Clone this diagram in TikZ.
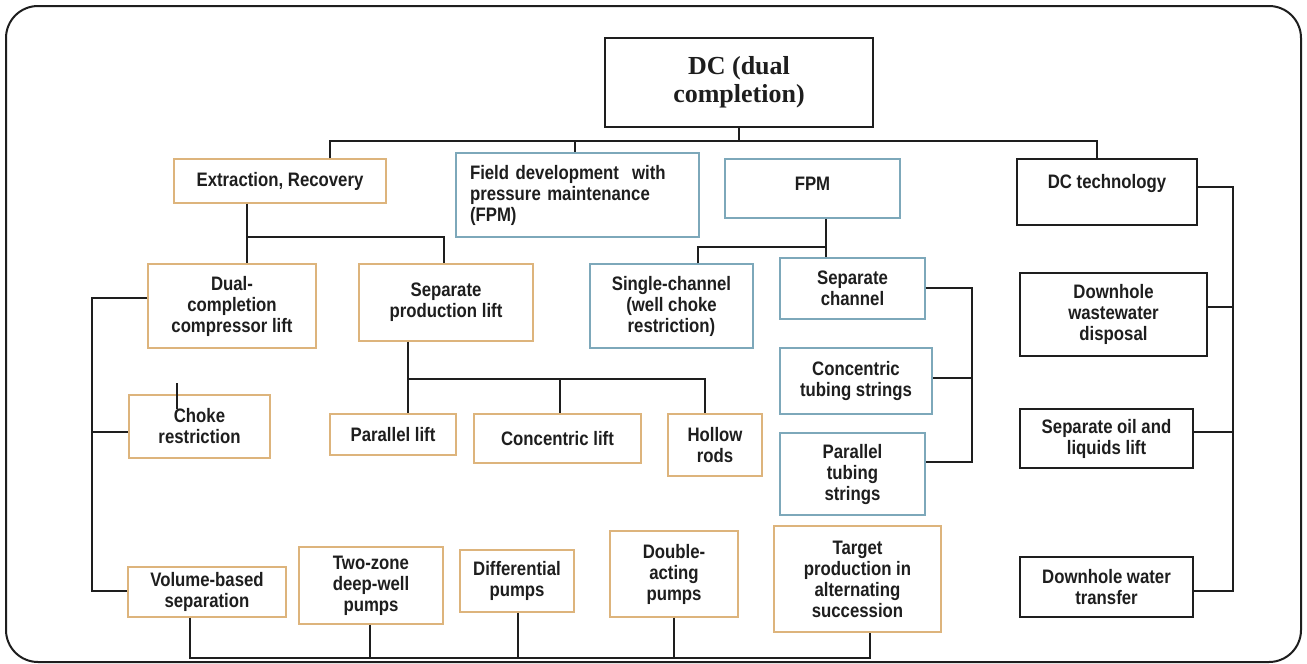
\documentclass[tikz,border=0pt]{standalone}
\usepackage{fontspec}
\usepackage{xcolor}
\usepackage{tikz}
\newfontfamily\boxfont{Liberation Sans}[FakeStretch=0.86]
\newfontfamily\rootfont{Liberation Serif}
\definecolor{ink}{HTML}{1E1E1E}
\definecolor{ochre}{HTML}{DDB47C}
\definecolor{steel}{HTML}{7DA8BA}
\tikzset{
  abox/.style={draw, line width=1.3pt, fill=white, text=ink, align=center, inner sep=0pt,
    font=\boxfont\bfseries\fontsize{19.5}{21}\selectfont},
  obox/.style={abox, draw=ochre},
  bbox/.style={abox, draw=steel},
  kbox/.style={abox, draw=ink},
  conn/.style={draw=ink, line width=1.2pt},
  outline/.style={draw=ink, line width=2pt, rounded corners=32pt}
}

\begin{document}
\begin{tikzpicture}[x=1pt,y=-1pt]
  \useasboundingbox (0,0) rectangle (1307,664);
  \fill[white] (0,0) rectangle (1307,664);
  \draw[outline] (6,6) rectangle (1301,662);

  \node[kbox, font=\rootfont\bfseries\fontsize{26}{28}\selectfont, minimum width=268pt, minimum height=89pt] (root) at (739,82.5) {DC (dual\\completion)};

  \node[obox, minimum width=212pt, minimum height=44pt] (extr) at (280,181) {Extraction, Recovery};
  \node[bbox, minimum width=243pt, minimum height=84pt, text width=215pt, align=left] (fdev) at (577.5,195) {Field development\ \ with\\pressure maintenance\\(FPM)};
  \node[bbox, minimum width=175pt, minimum height=59pt, text height=14pt, text depth=11pt] (fpm) at (812.5,188.5) {FPM};
  \node[kbox, minimum width=180pt, minimum height=66pt, text height=14pt, text depth=22pt] (dct) at (1107,192) {DC technology};

  \node[obox, minimum width=168pt, minimum height=84pt] (dual) at (232,306) {Dual-\\completion\\compressor lift};
  \node[obox, minimum width=174pt, minimum height=77pt] (sepl) at (446,302.5) {Separate\\production lift};
  \node[bbox, minimum width=163pt, minimum height=84pt] (sngl) at (671.5,306) {Single-channel\\(well choke\\restriction)};
  \node[bbox, minimum width=145pt, minimum height=61pt] (sepc) at (852.5,288.5) {Separate\\channel};
  \node[bbox, minimum width=152pt, minimum height=66pt] (ctub) at (856,381) {Concentric\\tubing strings};
  \node[bbox, minimum width=145pt, minimum height=82pt] (ptub) at (852.5,474) {Parallel\\tubing\\strings};

  \node[obox, minimum width=141pt, minimum height=63pt] (choke) at (199.5,426.5) {Choke\\restriction};
  \node[obox, minimum width=126pt, minimum height=41pt] (plift) at (393,434.5) {Parallel lift};
  \node[obox, minimum width=167pt, minimum height=49pt] (clift) at (557.5,438.5) {Concentric lift};
  \node[obox, minimum width=94pt, minimum height=62pt] (hrods) at (715,445) {Hollow\\rods};

  \node[kbox, minimum width=187pt, minimum height=83pt] (dww) at (1113.5,314.5) {Downhole\\wastewater\\disposal};
  \node[kbox, minimum width=173pt, minimum height=59pt] (soil) at (1106.5,438.5) {Separate oil and\\liquids lift};
  \node[kbox, minimum width=173pt, minimum height=60pt] (dwt) at (1106.5,587) {Downhole water\\transfer};

  \node[obox, minimum width=158pt, minimum height=50pt] (vol) at (207,592) {Volume-based\\separation};
  \node[obox, minimum width=144pt, minimum height=77pt] (twoz) at (371,585.5) {Two-zone\\deep-well\\pumps};
  \node[obox, minimum width=114pt, minimum height=62pt] (diff) at (517,581) {Differential\\pumps};
  \node[obox, minimum width=128pt, minimum height=86pt] (dbl) at (674,574) {Double-\\acting\\pumps};
  \node[obox, minimum width=167pt, minimum height=106pt] (targ) at (857.5,579) {Target\\production in\\alternating\\succession};

  \coordinate (j1) at (330,141); \coordinate (j2) at (575,141); \coordinate (j3) at (1097,141);
  \draw[conn] (root.south) -- (root.south |- j1);
  \draw[conn] (j1 |- extr.north) -- (j1) -- (j3) -- (j3 |- dct.north);
  \draw[conn] (j2) -- (j2 |- fdev.north);

  \coordinate (k1) at (247,237); \coordinate (k2) at (444,237);
  \draw[conn] (k1 |- extr.south) -- (k1 |- dual.north);
  \draw[conn] (k1) -- (k2) -- (k2 |- sepl.north);

  \coordinate (l1) at (92,298); \coordinate (l2) at (92,432); \coordinate (l3) at (92,591);
  \draw[conn] (l1 -| dual.west) -- (l1) -- (l3) -- (l3 -| vol.west);
  \draw[conn] (l2) -- (l2 -| choke.west);
  \coordinate (ck) at (177,383);
  \draw[conn] (ck) -- ++(0,26);

  \coordinate (m1) at (408,379); \coordinate (m2) at (560,379); \coordinate (m3) at (705,379);
  \draw[conn] (m1 |- sepl.south) -- (m1 |- plift.north);
  \draw[conn] (m1) -- (m3) -- (m3 |- hrods.north);
  \draw[conn] (m2) -- (m2 |- clift.north);

  \coordinate (n1) at (698,247); \coordinate (n2) at (826,247);
  \draw[conn] (n1 |- sngl.north) -- (n1) -- (n2);
  \draw[conn] (n2 |- fpm.south) -- (n2 |- sepc.north);

  \coordinate (p1) at (972,288); \coordinate (p2) at (972,378); \coordinate (p3) at (972,462);
  \draw[conn] (p1 -| sepc.east) -- (p1) -- (p3) -- (p3 -| ptub.east);
  \draw[conn] (p2) -- (p2 -| ctub.east);

  \coordinate (q1) at (1233,187); \coordinate (q2) at (1233,307);
  \coordinate (q3) at (1233,432); \coordinate (q4) at (1233,591);
  \draw[conn] (q1 -| dct.east) -- (q1) -- (q4) -- (q4 -| dwt.east);
  \draw[conn] (q2) -- (q2 -| dww.east);
  \draw[conn] (q3) -- (q3 -| soil.east);

  \coordinate (r1) at (190,658); \coordinate (r2) at (370,658); \coordinate (r3) at (518,658);
  \coordinate (r4) at (674,658); \coordinate (r5) at (870,658);
  \draw[conn] (r1 |- vol.south) -- (r1) -- (r5) -- (r5 |- targ.south);
  \foreach \b/\c in {twoz/r2, diff/r3, dbl/r4}
    \draw[conn] (\c |- \b.south) -- (\c);
\end{tikzpicture}
\end{document}
